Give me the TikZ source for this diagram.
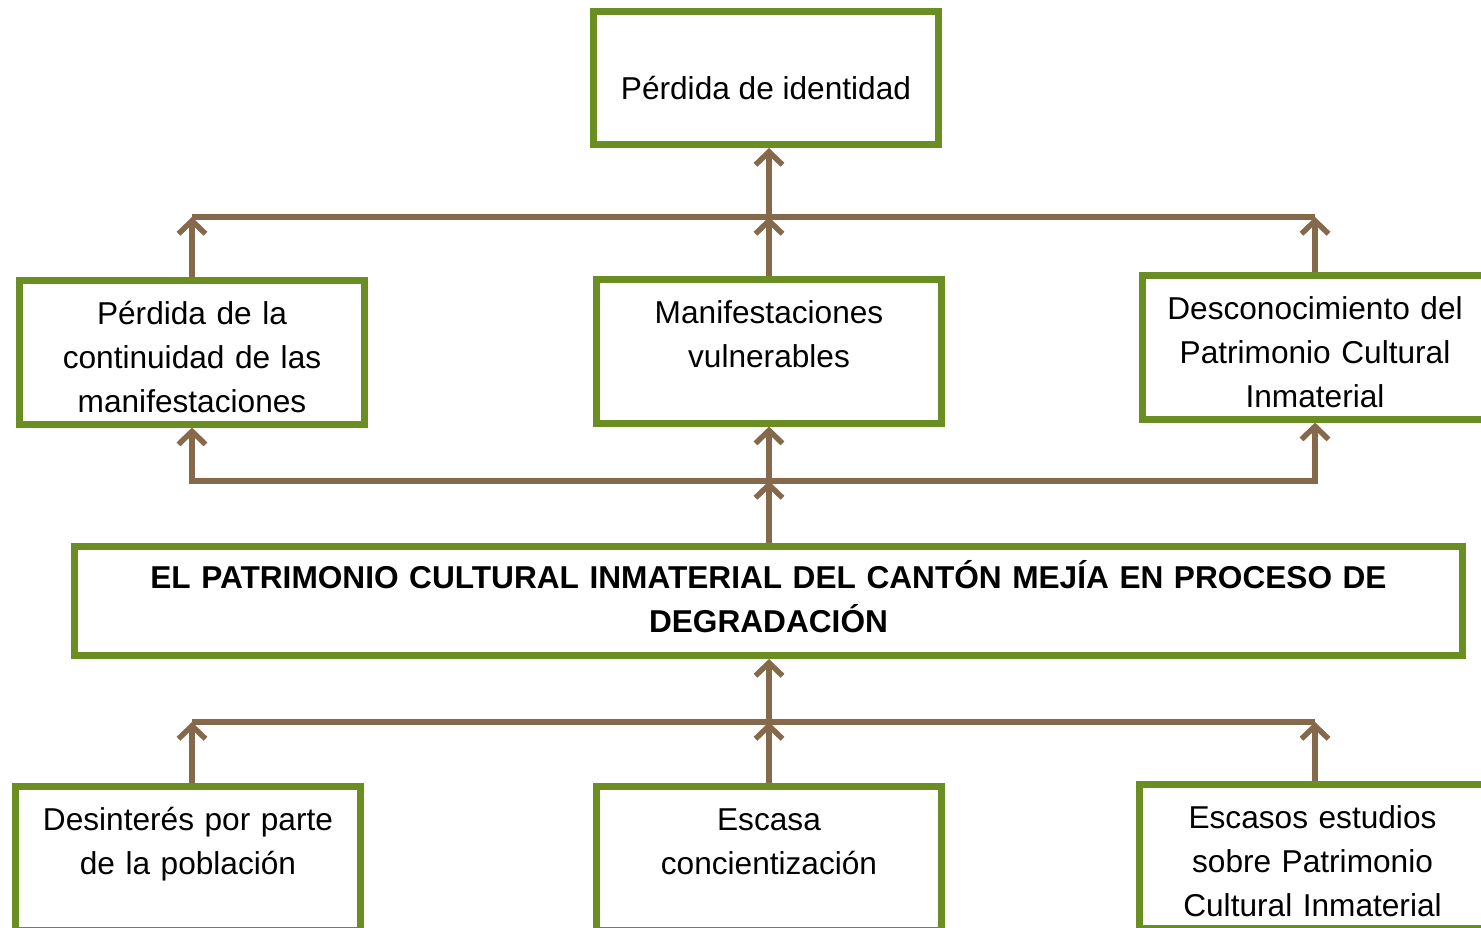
\documentclass[tikz,border=0pt]{standalone}
\usepackage{fontspec}
\setmainfont{Liberation Sans}
\usetikzlibrary{arrows.meta}

\definecolor{boxgreen}{RGB}{107,142,35}
\definecolor{linkbrown}{RGB}{134,104,74}

\tikzset{
    box/.style={draw=boxgreen, line width=4pt, fill=white, inner xsep=5pt,
        font=\fontsize{18}{25}\selectfont},
    causebox/.style={box, anchor=north, align=center, text width=6.56cm,
        inner ysep=5pt, text height=20pt, text depth=51.7pt},
    link/.style={draw=linkbrown, line width=3.1pt},
    flow/.style={link, -{Straight Barb[length=2.6mm,width=5.4mm,line width=3.1pt]}},
    twoflow/.style={link, {Straight Barb[length=2.6mm,width=5.4mm,line width=3.1pt]}-{Straight Barb[length=2.6mm,width=5.4mm,line width=3.1pt]}}
}

\begin{document}
\begin{tikzpicture}[x=0.02cm, y=-0.02cm]
        \useasboundingbox (0,0) rectangle (1481,927);
        \clip (0,0) rectangle (1481,927);

        % boxes
        \node[box, minimum width=6.9cm, minimum height=2.66cm, text height=24pt, text depth=0pt] (effect) at (766, 78) {Pérdida de identidad};
        \node[causebox] (lmid) at (192, 277) {Pérdida de la\\continuidad de las\\manifestaciones};
        \node[causebox] (cmid) at (769, 276) {Manifestaciones\\vulnerables};
        \node[causebox] (rmid) at (1315, 272) {Desconocimiento del\\Patrimonio Cultural\\Inmaterial};
        \node[box, align=center, text width=27.4cm, minimum height=2.18cm, text height=16.4pt, text depth=31pt,
            font=\fontsize{18}{25}\selectfont\bfseries] (problem) at (768.5, 601)
            {EL PATRIMONIO CULTURAL INMATERIAL DEL CANTÓN MEJÍA EN PROCESO DE\\DEGRADACIÓN};
        \node[causebox] (lbot) at (188, 783) {Desinterés por parte\\de la población};
        \node[causebox] (cbot) at (769, 783) {Escasa\\concientización};
        \node[causebox] (rbot) at (1312.5, 781) {Escasos estudios\\sobre Patrimonio\\Cultural Inmaterial};

        % joints
        \coordinate (jtl) at (192, 217);
        \coordinate (jtc) at (769, 217);
        \coordinate (jtr) at (1315, 217);
        \coordinate (jml) at (192, 481);
        \coordinate (jmc) at (769, 481);
        \coordinate (jmr) at (1315, 481);
        \coordinate (jbl) at (192, 722);
        \coordinate (jbc) at (769, 722);
        \coordinate (jbr) at (1315, 722);

        % top tier
        \draw[link] (jtl) -- (jtr);
        \draw[flow] (lmid.north) -- (jtl);
        \draw[flow] (cmid.north) -- (jtc);
        \draw[flow] (rmid.north) -- (jtr);
        \draw[flow] (jtc) -- (jtc |- effect.south);

        % middle tier
        \draw[twoflow] (lmid.south) -- (jml) -- (jmr) -- (rmid.south);
        \draw[flow] (jmc) -- (cmid.south);
        \draw[flow] (jmc |- problem.north) -- (jmc);

        % bottom tier
        \draw[link] (jbl) -- (jbr);
        \draw[flow] (jbl |- lbot.north) -- (jbl);
        \draw[flow] (cbot.north) -- (jbc);
        \draw[flow] (jbr |- rbot.north) -- (jbr);
        \draw[flow] (jbc) -- (jbc |- problem.south);

\end{tikzpicture}
\end{document}
